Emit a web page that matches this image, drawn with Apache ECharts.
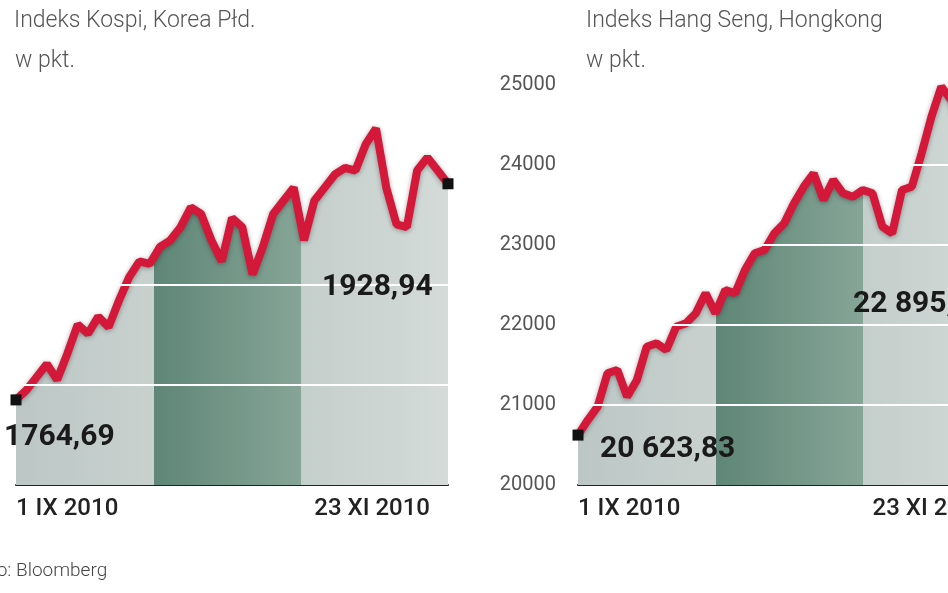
<!DOCTYPE html>
<html><head><meta charset="utf-8">
<script src="https://cdn.jsdelivr.net/npm/echarts@6/dist/echarts.min.js"></script>
<style>html,body{margin:0;padding:0;background:#fff;overflow:hidden}#c{width:1030px;height:593px}</style>
</head><body><div id="c"></div>
<script>
const kospiValues=[1764.69,1772,1782,1792,1780,1800,1822,1815,1828,1820,1840,1858,1870,1868,1881,1886,1896,1911,1906,1886,1870,1903,1896,1860,1881,1906,1916,1926,1886,1916,1926,1936,1941,1939,1959,1971,1926,1898,1896,1939,1949,1939,1928.94];
const hsValues=[20623.83,20812,20979,21396,21438,21104,21313,21729,21771,21688,21979,22021,22146,22396,22146,22438,22396,22688,22896,22938,23146,23271,23521,23729,23896,23563,23813,23646,23604,23688,23646,23229,23146,23688,23729,24146,24604,24979,24813,24500,24000,23500,23200,23000,22895];
const kospiDateLabels={0:'1 IX 2010',29:'23 XI 2010'};
const hsDateLabels={0:'1 IX 2010',30:'23 XI 2010'};
const hsTicks=[20000,21000,22000,23000,24000,25000];
const kospiGrid=[1776,1852];
const hsGrid=[21000,22000,23000,24000];

const RED='#d3183a';
function cats(n,map){return Array.from({length:n},(_,i)=>map[i]||'');}
function area(){return {type:'linear',x:0,y:0,x2:1,y2:0,colorStops:[
 {offset:0,color:'#bcc7c5'},{offset:0.32,color:'#c8d1ce'},{offset:0.32,color:'#5f8676'},{offset:0.66,color:'#86a597'},{offset:0.66,color:'#c4cecb'},{offset:1,color:'#d4dbd9'}]};}
function series(vals,xi){
 const n=vals.length;
 return {type:'line',xAxisIndex:xi,yAxisIndex:xi,data:vals.map((v,i)=>({value:v,symbol:(i===0||i===n-1)?'rect':'none',symbolSize:11})),
  showSymbol:true,itemStyle:{color:'#111'},smooth:false,
  lineStyle:{color:RED,width:8,shadowColor:'rgba(0,0,0,0.35)',shadowBlur:5,shadowOffsetY:1},
  areaStyle:{color:area(),opacity:1},
  markLine:{silent:true,symbol:'none',label:{show:false},lineStyle:{color:'#fff',width:2,type:'solid'},data:(xi===0?kospiGrid:hsGrid).map(v=>({yAxis:v}))},
  z:3};
}
const ch=echarts.init(document.getElementById('c'));
const lab={color:'#222',fontSize:24,fontFamily:'Roboto',fontWeight:500};
ch.setOption({
 animation:false,
 grid:[{left:16,width:432,top:85,bottom:108},{left:578,width:432,top:85,bottom:108}],
 xAxis:[
  {type:'category',gridIndex:0,boundaryGap:false,data:cats(kospiValues.length,kospiDateLabels),axisLine:{lineStyle:{color:'#222',width:2}},axisTick:{show:false},
   axisLabel:{interval:0,align:'left',margin:12,...lab}},
  {type:'category',gridIndex:1,boundaryGap:false,data:cats(hsValues.length,hsDateLabels),axisLine:{lineStyle:{color:'#222',width:2}},axisTick:{show:false},
   axisLabel:{interval:0,align:'left',margin:12,...lab}}
 ],
 yAxis:[
  {type:'value',gridIndex:0,min:1700,max:2004,interval:76,show:false,splitLine:{show:false}},
  {type:'value',gridIndex:1,min:20000,max:25000,interval:1000,axisLine:{show:false},axisTick:{show:false},splitLine:{show:false},
   axisLabel:{color:'#555',fontSize:20,fontFamily:'Roboto',margin:22,formatter:v=>hsTicks.includes(v)?String(v):''}}
 ],
 series:[series(kospiValues,0),series(hsValues,1)],
 graphic:[
  {type:'text',left:14,top:10,style:{text:'Indeks Kospi, Korea Płd.',fill:'#555',font:'300 23px Roboto'}},
  {type:'text',left:15,top:50,style:{text:'w pkt.',fill:'#555',font:'300 23px Roboto'}},
  {type:'text',left:586,top:10,style:{text:'Indeks Hang Seng, Hongkong',fill:'#555',font:'300 23px Roboto'}},
  {type:'text',left:586,top:50,style:{text:'w pkt.',fill:'#555',font:'300 23px Roboto'}},
  {type:'text',left:4,top:422,z:10,style:{text:'1764,69',fill:'#1a1a1a',font:'bold 30px Roboto'}},
  {type:'text',left:322,top:272,z:10,style:{text:'1928,94',fill:'#1a1a1a',font:'bold 30px Roboto'}},
  {type:'text',left:600,top:434,z:10,style:{text:'20 623,83',fill:'#1a1a1a',font:'bold 30px Roboto'}},
  {type:'text',left:853,top:289,z:10,style:{text:'22 895,00',fill:'#1a1a1a',font:'bold 30px Roboto'}},
  {type:'text',left:-47,top:562,style:{text:'Źródło: Bloomberg',fill:'#444',font:'300 19px Roboto'}}
 ]
});
</script></body></html>
